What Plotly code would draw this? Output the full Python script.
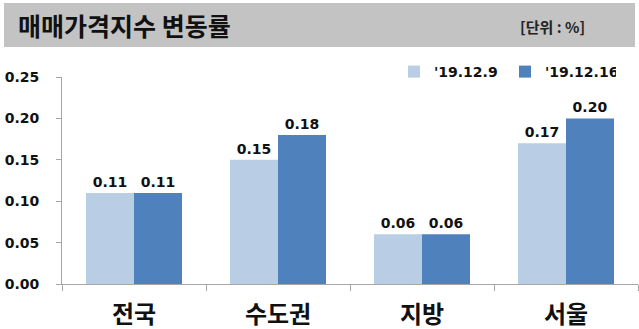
import plotly.graph_objects as go

categories = ["전국", "수도권", "지방", "서울"]
series_names = ["'19.12.9", "'19.12.16"]
values_prev = [0.11, 0.15, 0.06, 0.17]
values_curr = [0.11, 0.18, 0.06, 0.20]
y_ticks = [0.00, 0.05, 0.10, 0.15, 0.20, 0.25]
title_text = "매매가격지수 변동률"
unit_text = "[단위 : %]"

colors = ["#b9cde5", "#4f81bd"]
FONT = "Noto Sans CJK KR"
NUMFONT = "DejaVu Sans"

fig = go.Figure()
for name, vals, col in zip(series_names, [values_prev, values_curr], colors):
    fig.add_trace(go.Bar(
        x=categories, y=vals, name=f"<b>{name}</b>",
        marker=dict(color=col, line=dict(width=0)),
        text=[f"<b>{v:.2f}</b>" for v in vals], textposition="outside",
        textfont=dict(family=NUMFONT, size=14, color="#111111"),
        cliponaxis=False,
    ))

W, H = 639, 329
ml, mr, mt, mb = 62, 1, 77, 45
pw, ph = W - ml - mr, H - mt - mb

def px_x(x):
    return (x - ml) / pw

def px_y(y):
    return (H - mb - y) / ph

fig.add_shape(type="rect", xref="paper", yref="paper",
              x0=px_x(4), x1=px_x(635), y0=px_y(47), y1=px_y(3),
              fillcolor="#c3c3c3", line=dict(width=0), layer="below")
fig.add_annotation(xref="paper", yref="paper", x=px_x(16), y=px_y(25),
                   xanchor="left", yanchor="middle", showarrow=False,
                   text=f"<b>{title_text}</b>",
                   font=dict(family=FONT, size=25, color="#111111"))
fig.add_annotation(xref="paper", yref="paper", x=px_x(587), y=px_y(26),
                   xanchor="right", yanchor="middle", showarrow=False,
                   text=f"<b>{unit_text}</b>",
                   font=dict(family=FONT, size=15, color="#222222"))

fig.update_layout(
    width=W, height=H,
    margin=dict(l=ml, r=mr, t=mt, b=mb, pad=0, autoexpand=False),
    paper_bgcolor="white", plot_bgcolor="white",
    barmode="group", bargap=1/3, bargroupgap=0,
    showlegend=True,
    legend=dict(orientation="h", x=px_x(394), y=px_y(72), xanchor="left", yanchor="middle",
                font=dict(family=NUMFONT, size=14, color="#111111"),
                itemwidth=30, traceorder="normal", bgcolor="rgba(0,0,0,0)",
                entrywidth=66),
    xaxis=dict(showline=True, linecolor="#a6a6a6", linewidth=1,
               ticks="outside", tickson="boundaries", ticklen=6, tickcolor="#a6a6a6",
               tickfont=dict(family=FONT, size=24, color="#111111"),
               ticklabelstandoff=9,
               showgrid=False, fixedrange=True),
    yaxis=dict(range=[0, 0.25], tickvals=y_ticks, ticktext=[f"<b>{t:.2f}</b>" for t in y_ticks],
               showline=True, linecolor="#a6a6a6", linewidth=1,
               ticks="outside", ticklen=5, tickcolor="#a6a6a6",
               tickfont=dict(family=NUMFONT, size=14, color="#111111"),
               ticklabelstandoff=14,
               showgrid=False, zeroline=False, fixedrange=True),
)
fig.update_xaxes(ticktext=[f"<b>{c}</b>" for c in categories], tickvals=categories)

fig.write_html("out.html")
